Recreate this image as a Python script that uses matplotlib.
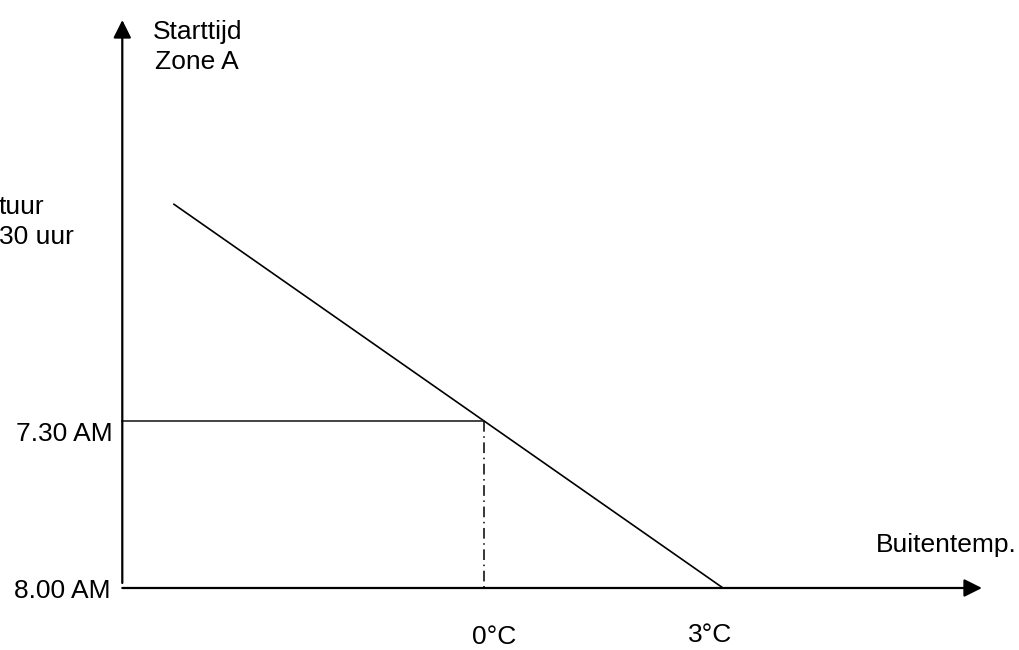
import matplotlib
matplotlib.use('Agg')
import matplotlib.pyplot as plt

plt.rcParams['font.family'] = ['Liberation Sans', 'DejaVu Sans']

# Start time line: outside temperature (degC) vs start time (decimal hours)
line_temp = [-3.9, 3.0]
line_time = [6.85, 8.0]

# reference point: 0 degC -> 7.30 AM
ref_temp = 0.0
ref_time = 7.5

# axis extents
x_axis_start = -4.54
x_axis_end = 6.25
y_axis_bottom = 7.985
y_axis_top = 6.3
base_time = 8.0

tick_labels_y = ['7.30 AM', '8.00 AM']
tick_labels_x = ['0°C', '3°C']

fig = plt.figure(figsize=(10.19, 6.5), dpi=100)
ax = fig.add_axes([0, 0, 1, 1])
ax.set_xlim(-6.075, 6.715)
ax.set_ylim(8.1856, 6.240)
ax.axis('off')

arrow = dict(arrowstyle='-|>,head_length=0.4,head_width=0.2',
             mutation_scale=27, lw=1.6, color='black',
             shrinkA=0, shrinkB=0)

# axes with arrows
ax.annotate('', xy=(x_axis_start, y_axis_top),
            xytext=(x_axis_start, y_axis_bottom), arrowprops=arrow)
ax.annotate('', xy=(x_axis_end, base_time),
            xytext=(x_axis_start, base_time), arrowprops=arrow)

# start time line
ax.plot(line_temp, line_time, color='black', lw=1.2, solid_capstyle='butt')

# helper lines for 0 degC
ax.plot([x_axis_start, ref_temp], [ref_time, ref_time],
        color='#222222', lw=1.2)
ax.plot([ref_temp, ref_temp], [ref_time, base_time], color='black',
        lw=1.1, linestyle=(0, (7, 3, 1, 3)))

fs = 19
ax.text(-4.66, 7.539, tick_labels_y[0], ha='right', va='center', fontsize=fs)
ax.text(-4.69, 8.009, tick_labels_y[1], ha='right', va='center', fontsize=fs)
ax.text(0.125, 8.147, tick_labels_x[0], ha='center', va='center', fontsize=fs)
ax.text(2.84, 8.141, tick_labels_x[1], ha='center', va='center', fontsize=fs)
ax.text(5.8, 7.871, 'Buitentemp.', ha='center', va='center', fontsize=fs)
ax.text(-3.6, 6.30, 'Starttijd\nZone A', ha='center', va='top',
        multialignment='center', fontsize=fs, linespacing=1.3)
ax.text(-6.09, 6.904, 'tuur\n30 uur', ha='left', va='center',
        fontsize=fs, linespacing=1.3)

fig.savefig('out.png', dpi=100)
